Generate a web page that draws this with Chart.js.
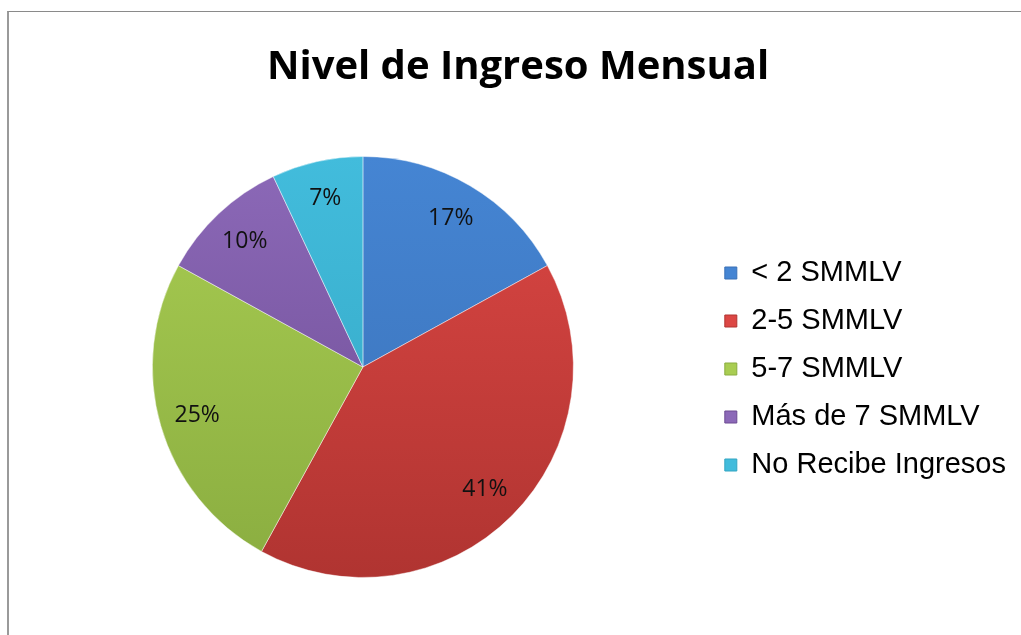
<!DOCTYPE html>
<html>
<head>
<meta charset="utf-8">
<style>
  html, body { margin: 0; padding: 0; background: #fff; overflow: hidden; }
  #wrap { position: absolute; left: 0; top: 0; width: 1021px; height: 635px; }
  #frame { position: absolute; left: 7px; top: 11px; width: 1100px; height: 700px;
           border-top: 1px solid #8a8a8a; border-left: 2px solid #9a9a9a; }
</style>
<script src="https://cdn.jsdelivr.net/npm/chart.js"></script>
</head>
<body>
<div id="frame"></div>
<div id="wrap"><canvas id="pieChart"></canvas></div>
<script>
  // data
  const categories = ['< 2 SMMLV', '2-5 SMMLV', '5-7 SMMLV', 'Más de 7 SMMLV', 'No Recibe Ingresos'];
  const percentages = [17, 41, 25, 10, 7];
  const chartTitle = 'Nivel de Ingreso Mensual';

  // top / bottom shade for each slice (office style gradient)
  const topColors = ['#4585d3', '#dc4744', '#a9cd52', '#8c69b8', '#42bcdc'];
  const bottomColors = ['#3a70b6', '#b03431', '#8aad40', '#6c4b92', '#33a5c2'];

  function sliceFill(ctx) {
    const chart = ctx.chart;
    const area = chart.chartArea;
    const i = ctx.dataIndex;
    if (!area) return topColors[i];
    const g = chart.ctx.createLinearGradient(0, area.top, 0, area.bottom);
    g.addColorStop(0, topColors[i]);
    g.addColorStop(1, bottomColors[i]);
    return g;
  }

  // percentage labels inside the slices
  const sliceLabels = {
    id: 'sliceLabels',
    afterDatasetsDraw(chart) {
      const c = chart.ctx;
      const meta = chart.getDatasetMeta(0);
      c.save();
      c.font = '23px "Open Sans", sans-serif';
      c.fillStyle = '#111';
      c.textAlign = 'center';
      c.textBaseline = 'middle';
      meta.data.forEach((arc, i) => {
        const p = arc.getProps(['x', 'y', 'startAngle', 'endAngle', 'outerRadius'], true);
        const mid = (p.startAngle + p.endAngle) / 2;
        const r = p.outerRadius * 0.82;
        c.fillText(percentages[i] + '%', p.x + Math.cos(mid) * r, p.y + Math.sin(mid) * r);
      });
      c.restore();
    }
  };

  new Chart(document.getElementById('pieChart').getContext('2d'), {
    type: 'pie',
    data: {
      labels: categories,
      datasets: [{
        data: percentages,
        backgroundColor: sliceFill,
        borderColor: 'rgba(255,255,255,0.45)',
        borderWidth: 1
      }]
    },
    options: {
      responsive: true,
      maintainAspectRatio: false,
      animation: false,
      layout: { padding: { left: 20, right: 5, top: 0, bottom: 57 } },
      plugins: {
        title: {
          display: true,
          text: chartTitle,
          color: '#000',
          font: { family: '"Open Sans", sans-serif', size: 40, weight: 'bold' },
          padding: { top: 44, bottom: 64 }
        },
        legend: {
          position: 'right',
          align: 'center',
          // empty title only used to push the entries down to the pie's middle
          title: { display: true, text: ' ', color: '#000', font: { size: 10, lineHeight: 1 }, padding: { top: 150, bottom: 0 } },
          labels: {
            color: '#000',
            font: { family: '"Liberation Sans", Arial, sans-serif', size: 29 },
            boxWidth: 12,
            boxHeight: 12,
            padding: 19,
            generateLabels(chart) {
              return categories.map((name, i) => ({
                text: name,
                fillStyle: topColors[i],
                strokeStyle: bottomColors[i],
                fontColor: '#000',
                lineWidth: 1,
                index: i
              }));
            }
          }
        },
        tooltip: { enabled: false }
      }
    },
    plugins: [sliceLabels]
  });
</script>
</body>
</html>
